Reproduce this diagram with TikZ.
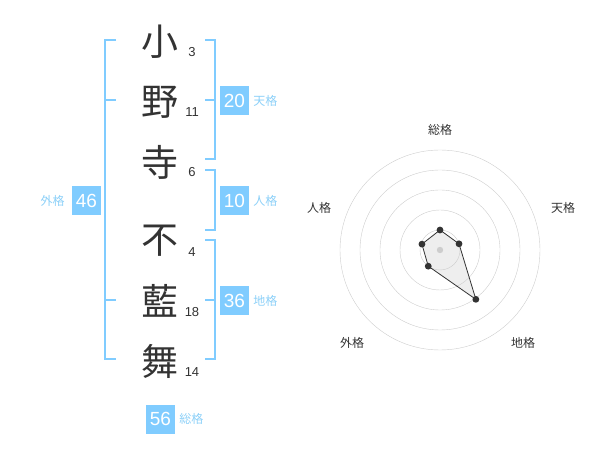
\documentclass[tikz,border=0pt]{standalone}
\usepackage{fontspec}
\setmainfont{Liberation Sans}
\newfontfamily\jp{Noto Sans CJK JP}
\usepackage{tikz}
\usetikzlibrary{positioning}
\definecolor{boxblue}{RGB}{128, 204, 255}
\definecolor{textblue}{RGB}{140, 208, 248}
\definecolor{inkgray}{RGB}{51, 51, 51}
\definecolor{gridgray}{RGB}{205, 205, 205}
\definecolor{areagray}{RGB}{238, 238, 238}

\begin{document}
\begin{tikzpicture}[x=1pt, y=-1pt,
            kanji/.style = {font=\jp\fontsize{37}{37}\selectfont, text=inkgray, inner sep=0pt},
          strokes/.style = {font=\fontsize{13}{13}\selectfont, text=inkgray, inner sep=0pt},
            score/.style = {fill=boxblue, text=white, font=\fontsize{19}{19}\selectfont, minimum size=29pt, inner sep=0pt},
             kaku/.style = {font=\jp\fontsize{12}{12}\selectfont, text=textblue, inner sep=0pt},
         axislabel/.style = {font=\jp\fontsize{12}{12}\selectfont, text=inkgray, inner sep=0pt},
          bracket/.style = {draw=boxblue, line width=2pt}]
    \useasboundingbox (0,0) rectangle (600,470);
    % name column
    \node[kanji] (k1) at (160,42)  {小};
    \node[kanji] (k2) at (160,102) {野};
    \node[kanji] (k3) at (160,162) {寺};
    \node[kanji] (k4) at (160,241) {不};
    \node[kanji] (k5) at (160,301) {藍};
    \node[kanji] (k6) at (160,361) {舞};
    \node[strokes] (s1) at (192,52)  {3};
    \node[strokes] (s2) at (192,112) {11};
    \node[strokes] (s3) at (192,172) {6};
    \node[strokes] (s4) at (192,252) {4};
    \node[strokes] (s5) at (192,312) {18};
    \node[strokes] (s6) at (192,372) {14};
    % brackets
    \draw[bracket] (116,40) -- (105,40) -- (105,359) -- (116,359);
    \draw[bracket] (105,100) -- (116,100);
    \draw[bracket] (105,300) -- (116,300);
    \draw[bracket] (205,40) -- (215,40) -- (215,159) -- (205,159);
    \draw[bracket] (205,100) -- (215,100);
    \draw[bracket] (205,170) -- (215,170) -- (215,230) -- (205,230);
    \draw[bracket] (205,240) -- (215,240) -- (215,359) -- (205,359);
    \draw[bracket] (205,300) -- (215,300);
    % scores
    \node[score] (ten)   at (234.5,100.5) {20};
    \node[kaku, right=4pt of ten] {天格};
    \node[score] (jin)   at (234.5,200.5) {10};
    \node[kaku, right=4pt of jin] {人格};
    \node[score] (chi)   at (234.5,300.5) {36};
    \node[kaku, right=4pt of chi] {地格};
    \node[score] (gai)   at (86.5,200.5)  {46};
    \node[kaku, left=7pt of gai] {外格};
    \node[score] (sou)   at (160.5,419)   {56};
    \node[kaku, right=4pt of sou] {総格};
    % radar
    \begin{scope}[shift={(440,250)}, yscale=-1]
        \coordinate (p1) at (90:20);
        \coordinate (p2) at (18:20);
        \coordinate (p3) at (-54:61);
        \coordinate (p4) at (-126:20);
        \coordinate (p5) at (162:19);
        \fill[areagray] (p1) -- (p2) -- (p3) -- (p4) -- (p5) -- cycle;
        \foreach \r in {20,40,...,100}
            \draw[gridgray] (0,0) circle (\r pt);
        \fill[gridgray] (0,0) circle (3.2pt);
        \draw[inkgray, line width=0.8pt] (p1) -- (p2) -- (p3) -- (p4) -- (p5) -- cycle;
        \foreach \p in {p1,p2,p3,p4,p5}
            \fill[inkgray] (\p) circle (3.4pt);
    \end{scope}
    \node[axislabel] (ax1) at (440,130) {総格};
    \node[axislabel] (ax2) at (563,208) {天格};
    \node[axislabel] (ax3) at (523,343) {地格};
    \node[axislabel] (ax4) at (352,343) {外格};
    \node[axislabel] (ax5) at (319,208) {人格};
\end{tikzpicture}
\end{document}
